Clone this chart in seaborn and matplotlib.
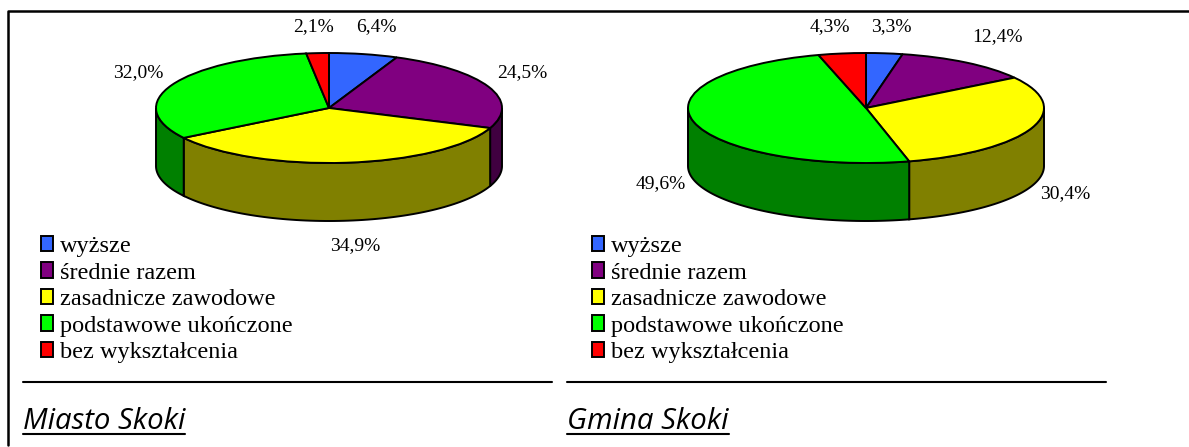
import matplotlib
matplotlib.use("Agg")
import matplotlib.pyplot as plt
from matplotlib.legend import Legend
from matplotlib.patches import Patch
import numpy as np
import seaborn as sns

W, H = 1189, 447

# education levels
categories = ["wyższe", "średnie razem", "zasadnicze zawodowe",
              "podstawowe ukończone", "bez wykształcenia"]
miasto_values = [6.4, 24.5, 34.9, 32.0, 2.1]
gmina_values = [3.3, 12.4, 30.4, 49.6, 4.3]
panel_titles = ["Miasto Skoki", "Gmina Skoki"]

top_colors = sns.color_palette(["#3366FF", "#800080", "#FFFF00", "#00FF00", "#FF0000"])
side_colors = sns.color_palette(["#1A3380", "#400040", "#808000", "#008000", "#800000"])

sns.set_theme(style="white")
plt.rcParams["font.family"] = ["Liberation Serif", "DejaVu Sans"]
plt.rcParams["text.color"] = "black"

fig = plt.figure(figsize=(W / 100, H / 100), dpi=100)
bg = fig.add_axes([0, 0, 1, 1])
bg.set_xlim(0, W)
bg.set_ylim(H, 0)
bg.axis("off")


def draw_pie(values, left, right, top, mid_bottom, bottom):
    # axes cover the whole drum, unit circle squashed into an ellipse
    ax = fig.add_axes([left / W, 1 - bottom / H, (right - left) / W, (bottom - top) / H])
    depth = 2 * (bottom - mid_bottom) / (mid_bottom - top)
    edges = 90 - np.cumsum([0] + list(values)) / sum(values) * 360
    for i in range(len(values)):
        # only the front half of the drum wall shows
        a0 = max(edges[i + 1], -180)
        a1 = min(edges[i], 0)
        if a1 <= a0:
            continue
        t = np.radians(np.linspace(a0, a1, 80))
        xs = np.r_[np.cos(t), np.cos(t[::-1])]
        ys = np.r_[np.sin(t), np.sin(t[::-1]) - depth]
        ax.fill(xs, ys, facecolor=side_colors[i], edgecolor="black", linewidth=1.4, clip_on=False)
    ax.pie(values, colors=top_colors, startangle=90, counterclock=False,
           wedgeprops=dict(edgecolor="black", linewidth=1.4, clip_on=False))
    ax.set_aspect("auto")
    ax.set_xlim(-1, 1)
    ax.set_ylim(-1 - depth, 1)
    ax.axis("off")


def pct(v):
    return f"{v:.1f}".replace(".", ",") + "%"


draw_pie(miasto_values, 156, 502, 53, 163, 221)
draw_pie(gmina_values, 688, 1044, 53, 163, 221)

# value labels
miasto_xy = [(376, 27), (522, 73), (355, 246), (138, 73), (313, 27)]
gmina_xy = [(891, 27), (997, 37), (1065, 194), (661, 184), (830, 27)]
for vals, xy in ((miasto_values, miasto_xy), (gmina_values, gmina_xy)):
    for v, (x, y) in zip(vals, xy):
        bg.text(x, y, pct(v), ha="center", va="center", fontsize=14, color="black")

# legends, rules and captions
handles = [Patch(facecolor=c, edgecolor="black", linewidth=1.4) for c in top_colors]
for x0, x_rule0, x_rule1, title in ((41, 23, 552, panel_titles[0]), (592, 567, 1106, panel_titles[1])):
    leg = Legend(bg, handles, categories, loc="upper left", bbox_to_anchor=(x0, 236),
                 bbox_transform=bg.transData, frameon=False, fontsize=17.5,
                 handlelength=0.5, handleheight=0.58, handletextpad=0.29,
                 labelspacing=0.22, borderpad=0, borderaxespad=0)
    bg.add_artist(leg)
    bg.plot([x_rule0, x_rule1], [382, 382], color="black", lw=1.5)
    txt = bg.text(x_rule0, 429, title, ha="left", va="baseline", fontsize=21.2,
                  style="italic", family="Open Sans", color="black")
    fig.canvas.draw()
    box = txt.get_window_extent()
    bg.plot([x_rule0, box.x1], [434, 434], color="black", lw=1.5)

# outer frame: left and top edges only
bg.plot([7.5, 7.5, W], [445, 11, 11], color="black", lw=1.8, clip_on=False)
bg.set_xlim(0, W)
bg.set_ylim(H, 0)

fig.savefig("out.png", dpi=100)
